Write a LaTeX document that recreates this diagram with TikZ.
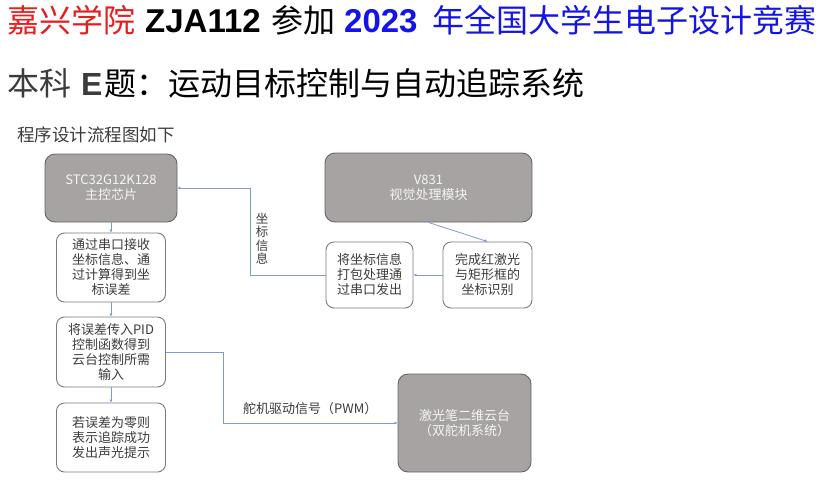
\documentclass[tikz,border=0pt]{standalone}
\usepackage{fontspec}
\setmainfont{Noto Sans CJK SC}
\newfontfamily\cjk{Noto Sans CJK SC}
\newfontfamily\latinfont{Liberation Sans}
\usetikzlibrary{positioning,arrows.meta}

\newcommand{\sz}[2]{\fontsize{#1}{#2}\selectfont}

\definecolor{titleRed}{HTML}{E81E1E}
\definecolor{titleBlue}{HTML}{1414E6}
\definecolor{inkGray}{HTML}{3C3C3C}
\definecolor{boxGray}{HTML}{A6A3A2}
\definecolor{boxEdge}{HTML}{666666}
\definecolor{lightEdge}{HTML}{7C7C7C}
\definecolor{wireBlue}{HTML}{7E9BD3}

\tikzset{
    heading/.style={anchor=base west, inner sep=0pt, font=\cjk\sz{32}{32}},
    headingBold/.style={anchor=base west, inner sep=0pt, font=\latinfont\bfseries\sz{33}{33}},
    darkbox/.style={draw=boxEdge, fill=boxGray, line width=0.9pt, rounded corners=10pt,
        align=center, inner sep=0pt, text=white!92!gray, font=\cjk\sz{13}{15}},
    lightbox/.style={draw=lightEdge, fill=white, line width=0.9pt, rounded corners=8pt,
        align=center, inner sep=0pt, text=inkGray, font=\cjk\sz{13}{15}},
    wire/.style={draw=wireBlue, line width=0.8pt, -{Latex[length=3pt,width=3pt]}},
    wireLabel/.style={inner sep=0pt, align=center, text=inkGray, font=\cjk\sz{12.5}{13.5}},
}

\begin{document}
\begin{tikzpicture}[x=1pt, y=-1pt]
    % Globals
    \pgfmathsetmacro{\colX}{111}
    \pgfmathsetmacro{\stepW}{109}
    \pgfmathsetmacro{\stepH}{69}

    \useasboundingbox[fill=white] (0,0) rectangle (824,485);

    % Headings
    \node[heading, text=titleRed] (SCHOOL) at (7,32) {嘉兴学院};
    \node[headingBold, text=black] (TEAM) at (145,32) {ZJA112};
    \node[heading, text=black] (JOIN) at (271,32) {参加};
    \node[headingBold, text=titleBlue] (YEAR) at (344,32) {2023};
    \node[heading, text=titleBlue] (CONTEST) at (432,32) {年全国大学生电子设计竞赛};

    \node[heading, text=inkGray] (LEVEL) at (7,95) {本科};
    \node[headingBold, text=inkGray, font=\latinfont\bfseries\sz{32}{32}] (TOPIC) at (81,95) {E};
    \node[heading, text=black] (TASK) at (104,95) {题：运动目标控制与自动追踪系统};

    \node[heading, text=inkGray, font=\cjk\sz{17.5}{17.5}] (CAPTION) at (17,141) {程序设计流程图如下};

    % Left column
    \node[darkbox, minimum width=132, minimum height=68] (STC) at (\colX,188) {STC32G12K128\\主控芯片};
    \node[lightbox, minimum width=\stepW, minimum height=\stepH] (RECV) at (\colX,267.5)
        {通过串口接收\\坐标信息、通\\过计算得到坐\\标误差};
    \node[lightbox, minimum width=\stepW, minimum height=70] (PID) at (\colX,352)
        {将误差传入PID\\控制函数得到\\云台控制所需\\输入};
    \node[lightbox, minimum width=\stepW, minimum height=\stepH] (DONE) at (\colX,437.5)
        {若误差为零则\\表示追踪成功\\发出声光提示};

    % Right side
    \node[darkbox, minimum width=207, minimum height=69] (V831) at (428.5,187.5) {V831\\视觉处理模块};
    \node[lightbox, minimum width=87, minimum height=66] (PACK) at (369.5,275)
        {将坐标信息\\打包处理通\\过串口发出};
    \node[lightbox, minimum width=89, minimum height=66] (DETECT) at (487.5,275)
        {完成红激光\\与矩形框的\\坐标识别};
    \node[darkbox, minimum width=133, minimum height=98] (LASER) at (464.5,423)
        {激光笔二维云台\\（双舵机系统）};

    % Connectors
    \draw[wire] (STC.south) -- (RECV.north);
    \draw[wire] (RECV.south) -- (PID.north);
    \draw[wire] (PID.south) -- (DONE.north);
    \draw[wire] (V831.south) -- (DETECT.north);
    \draw[wire] (DETECT.west) -- (PACK.east);
    \draw[wire] (PACK.west) -- ++(-75,0) |- (STC.east)
        node[wireLabel, pos=0.21, right=5pt] (COORDTAG) {坐\\标\\信\\息};
    \draw[wire] (PID.east) -- ++(57,0) |- (LASER.west)
        node[wireLabel, pos=0.75, above=8pt, font=\cjk\sz{13}{15}] (PWMTAG) {舵机驱动信号（PWM）};

\end{tikzpicture}
\end{document}
